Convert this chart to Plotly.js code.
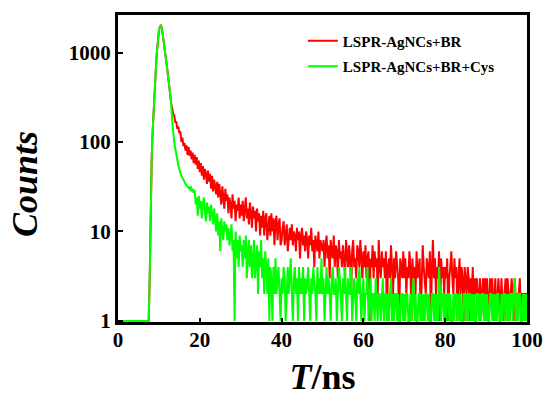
<!DOCTYPE html>
<html>
<head>
<meta charset="utf-8">
<script src="https://cdn.plot.ly/plotly-3.0.1.min.js"></script>
<style>html,body{margin:0;padding:0;background:#fff}#chart{width:547px;height:397px}</style>
</head>
<body>
<div id="chart"></div>
<script>
// time channels: 0 .. 100 ns, step 0.25 ns
const timeStep = 0.25;
const seriesNames = ["LSPR-AgNCs+BR", "LSPR-AgNCs+BR+Cys"];

// counts, 20 channels (5 ns) per row
const countsBR = [
1,1,1,1,1,1,1,1,1,1,1,1,1,1,1,1,1,1,1,1,
1,1,1,1,1,1,1,1,1,1,1,3,25,70,140,260,420,650,1000,1400,
1750,1950,2000,1850,1550,1280,1050,850,680,540,420,340,270,240,205,200,165,170,140,150,
125,132,100,112,90,98,80,92,72,88,70,80,64,76,58,72,56,68,50,62,
46,58,42,54,38,50,44,34,48,36,44,30,42,28,38,32,26,36,24,34,
28,20,32,24,18,30,22,26,16,24,20,14,26,18,22,13,20,17,24,14,
20,15,22,13,19,24,14,18,12,21,16,11,19,14,17,10,18,13,16,9,
15,11,17,9,14,16,8,13,15,9,16,10,14,7,13,15,8,12,14,7,
8,11,13,7,10,12,6,9,11,8,12,7,10,9,6,11,8,10,5,9,
11,7,9,6,10,8,5,9,7,11,6,8,4,9,7,6,10,5,8,7,
6,8,4,7,9,5,7,3,8,6,5,9,4,7,6,3,8,5,6,4,
7,5,3,8,6,4,7,5,2,6,8,4,5,3,7,6,4,8,5,3,
6,4,7,3,5,6,1,5,4,7,3,6,4,5,2,8,4,3,6,4,
5,3,6,1,4,5,3,7,4,2,5,3,6,4,3,1,5,4,3,6,
3,5,2,4,3,6,4,1,5,3,4,2,6,3,4,5,1,3,7,4,
3,2,5,4,3,6,1,4,8,3,5,2,4,3,6,1,5,3,4,2,
4,3,5,1,3,4,6,3,2,5,3,4,1,3,5,2,4,3,1,4,
3,2,4,3,1,3,2,4,1,3,2,3,2,1,3,1,2,3,2,3,
2,3,1,2,3,2,3,1,2,3,1,2,3,2,1,3,2,1,2,3,
2,3,2,1,2,3,2,1,3,2,1,2,2,3,1,2,2,1,2,2,
2
];

const countsBRCys = [
1,1,1,1,1,1,1,1,1,1,1,1,1,1,1,1,1,1,1,1,
1,1,1,1,1,1,1,1,1,1,1,3,25,70,140,260,420,650,1000,1400,
1750,1950,2000,1850,1550,1280,1050,850,680,540,420,340,270,175,125,100,85,72,62,55,
50,45,42,40,37,36,34,33,32,31,30,32,28,30,27,29,20,24,15,25,
18,22,14,20,24,17,13,21,16,19,13,20,15,12,18,14,10,16,9,13,
6,14,11,8,13,10,12,8,11,7,9,12,6,8,1,10,5,8,4,9,
6,7,4,8,5,9,3,6,8,4,7,3,6,8,3,5,7,2,6,4,
8,3,5,2,6,4,2,5,1,4,3,1,4,2,5,2,3,4,2,1,
3,2,4,3,1,2,4,2,3,5,2,1,3,4,2,3,1,4,2,3,
2,4,1,3,2,3,4,2,1,3,2,4,3,2,1,4,2,3,2,5,
2,3,1,2,4,2,3,2,1,3,4,2,2,3,1,2,4,3,2,1,
3,2,4,2,1,3,2,2,4,1,2,3,2,1,3,2,4,2,1,2,
3,1,2,2,4,1,2,3,1,2,2,1,3,2,1,2,2,1,2,3,
1,2,2,1,2,1,2,3,1,2,1,2,2,1,2,1,1,2,2,1,
2,1,2,2,1,1,2,1,2,3,1,2,1,1,2,2,1,2,1,2,
1,2,2,1,2,1,1,2,2,1,2,1,2,1,4,2,1,2,2,1,
2,1,2,2,1,2,1,1,2,1,2,2,1,2,1,2,1,1,2,2,
1,2,1,2,2,1,2,1,2,1,1,2,2,1,2,1,2,2,1,2,
1,2,1,1,2,2,1,2,1,2,1,2,2,1,1,2,1,2,2,1,
2,1,2,1,2,2,1,2,3,1,2,1,2,2,1,1,2,1,2,1,
2
];

const xTickVals = [0, 20, 40, 60, 80, 100];
const yTickVals = [1, 10, 100, 1000];
const yTickText = ["1", "10", "100", "1000"];

const timeNs = countsBR.map((_, i) => i * timeStep);

const serif = "Liberation Serif, Times New Roman, serif";

const traces = [
  {x: timeNs, y: countsBR, name: seriesNames[0], legendgroup: "a", type: "scatter", mode: "lines",
   line: {color: "#ff0000", width: 2}},
  {x: timeNs, y: countsBRCys, name: seriesNames[1], legendgroup: "b", type: "scatter", mode: "lines",
   line: {color: "#00ff00", width: 2}}
];

const layout = {
  width: 547, height: 397,
  margin: {l: 118, r: 20, t: 15, b: 75},
  paper_bgcolor: "#fff", plot_bgcolor: "#fff",
  showlegend: true,
  legend: {x: 0.452, xanchor: "left", y: 0.969, yanchor: "top", bgcolor: "rgba(0,0,0,0)",
           font: {family: serif, size: 15, color: "#000", weight: "bold"},
           tracegroupgap: 3, traceorder: "grouped"},
  xaxis: {
    range: [0, 100], tickvals: xTickVals, ticks: "inside", ticklen: 4, tickwidth: 2, tickcolor: "#000",
    showline: true, linecolor: "#000", linewidth: 3, mirror: true, showgrid: false, zeroline: false,
    ticklabelstandoff: -3,
    tickfont: {family: serif, size: 21, color: "#000", weight: "bold"},
    title: {text: "<b><i>T</i>/ns</b>", font: {family: serif, size: 36, color: "#000"}, standoff: 20}
  },
  yaxis: {
    type: "log", range: [-0.012, 3.42], tickvals: yTickVals, ticktext: yTickText,
    ticks: "inside", ticklen: 5, tickwidth: 2, tickcolor: "#000",
    showline: true, linecolor: "#000", linewidth: 3, mirror: true, showgrid: false, zeroline: false,
    tickfont: {family: serif, size: 21, color: "#000", weight: "bold"}
  },
  annotations: [{
    text: "<b><i>Counts</i></b>", xref: "paper", yref: "paper", x: -0.2274, y: 0.4495,
    xanchor: "center", yanchor: "middle", textangle: -90, showarrow: false,
    font: {family: serif, size: 36, color: "#000"}
  }]
};

Plotly.newPlot("chart", traces, layout, {displayModeBar: false, staticPlot: true});
</script>
</body>
</html>
